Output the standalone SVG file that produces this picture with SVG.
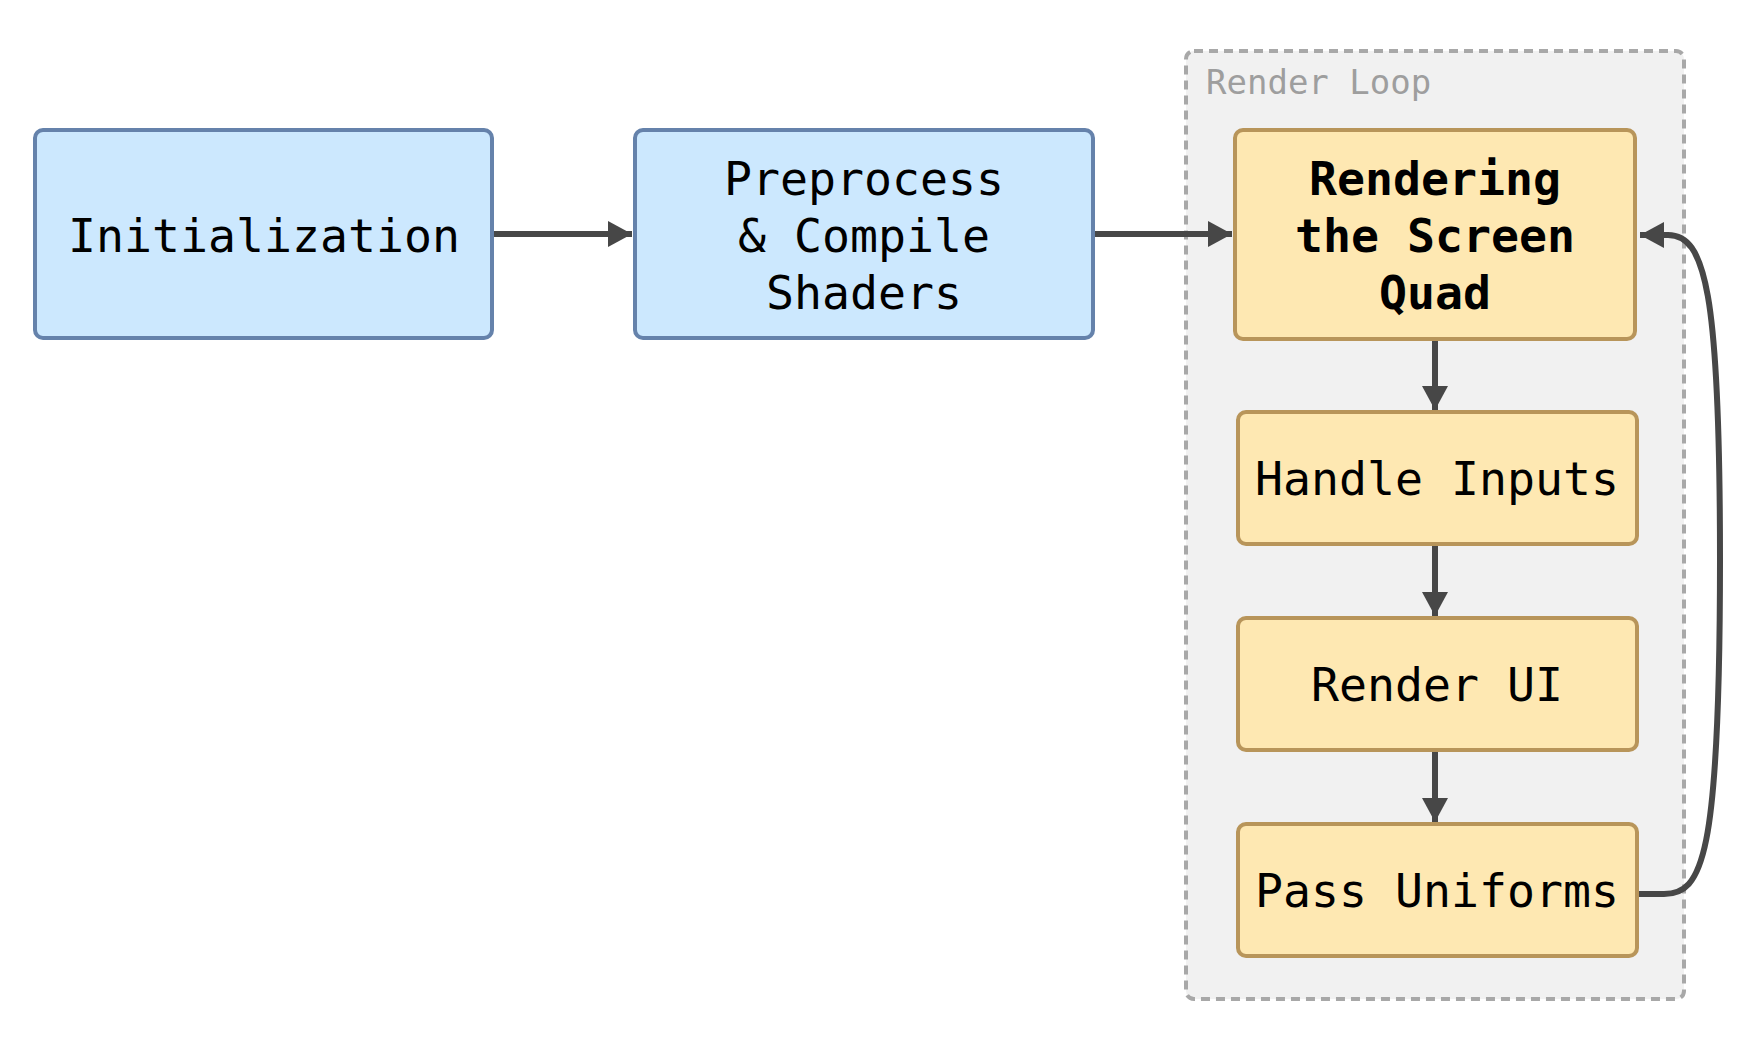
<svg xmlns="http://www.w3.org/2000/svg" width="1763" height="1049" viewBox="0 0 1763 1049">
<style>
.bg{fill:#ffffff}
.grp{fill:#f1f1f1;stroke:#a8a8a8;stroke-width:4;stroke-dasharray:9 6}
.grplabel{font-family:"DejaVu Sans Mono","Liberation Mono",monospace;font-size:34px;fill:#9e9e9e}
.blue{fill:#cce8fe;stroke:#6582ab;stroke-width:4}
.yel{fill:#fee8b2;stroke:#b8955a;stroke-width:4}
.lbl{font-family:"DejaVu Sans Mono","Liberation Mono",monospace;font-size:46.5px;fill:#000;text-anchor:middle}
.bold{font-weight:bold}
.edge{fill:none;stroke:#474747;stroke-width:6}
</style>
<defs>
<marker id="ah" markerUnits="userSpaceOnUse" markerWidth="25" markerHeight="26" refX="24" refY="13" orient="auto">
<path d="M0,0 L24,13 L0,26 z" fill="#474747"/>
</marker>
</defs>
<rect class="bg" x="0" y="0" width="1763" height="1049"/>
<g id="render-loop">
<rect class="grp" x="1186" y="51" width="498" height="948" rx="8"/>
<text class="grplabel" x="1206" y="94">Render Loop</text>
</g>
<g id="initialization">
<rect class="blue" x="35" y="130" width="457" height="208" rx="8"/>
<text class="lbl" x="264" y="252">Initialization</text>
</g>
<g id="preprocess">
<rect class="blue" x="635" y="130" width="458" height="208" rx="8"/>
<text class="lbl" x="864" y="195">Preprocess</text>
<text class="lbl" x="864" y="252">&amp; Compile</text>
<text class="lbl" x="864" y="309">Shaders</text>
</g>
<g id="rendering">
<rect class="yel" x="1235" y="130" width="400" height="209" rx="8"/>
<text class="lbl bold" x="1435" y="195">Rendering</text>
<text class="lbl bold" x="1435" y="252">the Screen</text>
<text class="lbl bold" x="1435" y="309">Quad</text>
</g>
<g id="handle-inputs">
<rect class="yel" x="1238" y="412" width="399" height="132" rx="8"/>
<text class="lbl" x="1437" y="495">Handle Inputs</text>
</g>
<g id="render-ui">
<rect class="yel" x="1238" y="618" width="399" height="132" rx="8"/>
<text class="lbl" x="1437" y="701">Render UI</text>
</g>
<g id="pass-uniforms">
<rect class="yel" x="1238" y="824" width="399" height="132" rx="8"/>
<text class="lbl" x="1437" y="907">Pass Uniforms</text>
</g>
<g id="connectors">
<path class="edge" d="M494,234 L632,234" marker-end="url(#ah)"/>
<path class="edge" d="M1095,234 L1232,234" marker-end="url(#ah)"/>
<path class="edge" d="M1435,341 L1435,410" marker-end="url(#ah)"/>
<path class="edge" d="M1435,546 L1435,616" marker-end="url(#ah)"/>
<path class="edge" d="M1435,752 L1435,822" marker-end="url(#ah)"/>
<path class="edge" d="M1639,894 L1664,894 C1702,894 1720,860 1720,560 C1720,290 1705,235 1668,235 L1640,235" marker-end="url(#ah)"/>
</g>
</svg>
